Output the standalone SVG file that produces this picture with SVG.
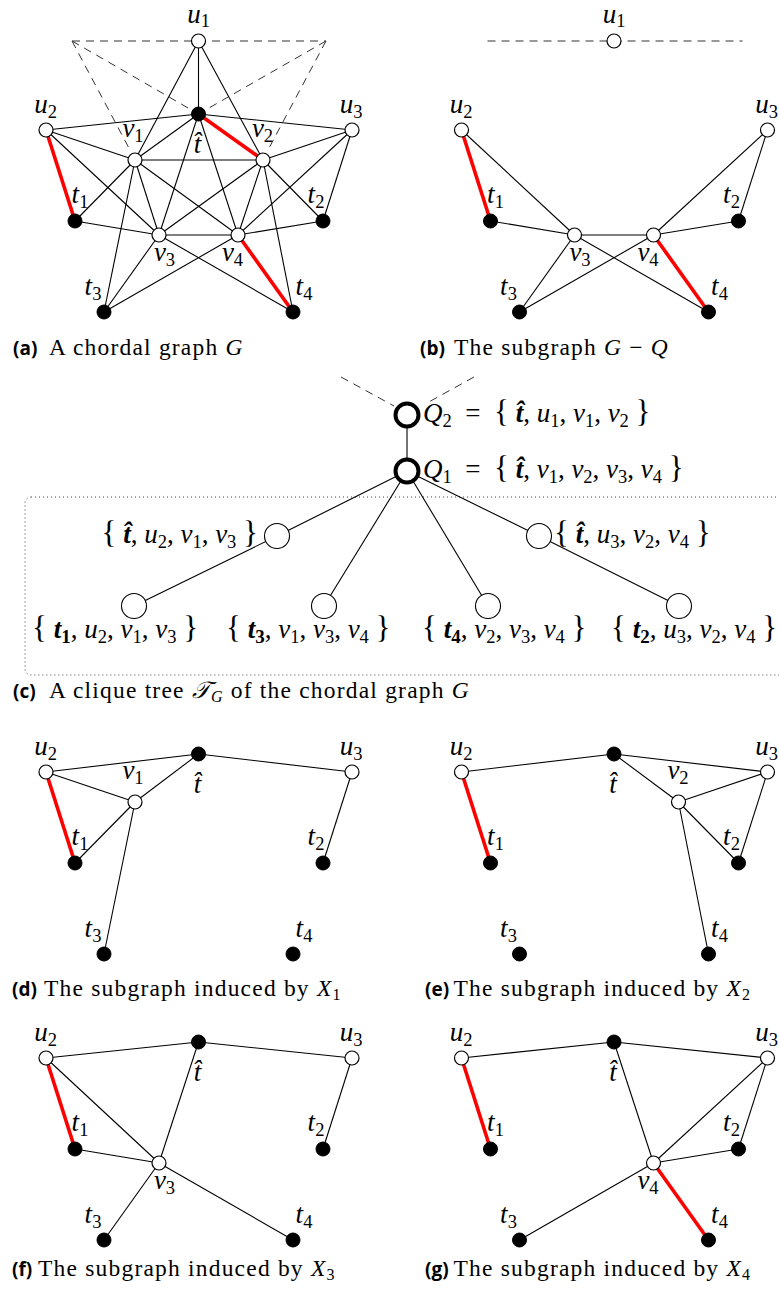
<svg xmlns="http://www.w3.org/2000/svg" width="779" height="1293" viewBox="0 0 779 1293">
<style>
.e{stroke:#000;stroke-width:1.1;fill:none}
.r{stroke:#f00;stroke-width:3.6;fill:none}
.d{stroke:#333;stroke-width:1;stroke-dasharray:8 6;fill:none}
.w{fill:#fff;stroke:#000;stroke-width:1.2}
.b{fill:#000;stroke:#000;stroke-width:1}
.q{fill:#fff;stroke:#000;stroke-width:4}
.c{fill:#fff;stroke:#000;stroke-width:1.1}
.lab{font-family:"Liberation Serif",serif;font-size:27px;font-style:italic;text-anchor:middle}
.set{font-family:"Liberation Serif",serif;font-size:27px;font-style:italic}
.sub{font-size:18.5px;font-style:normal}
.n{font-style:normal}
.br{font-style:normal;font-size:31px}
.bi{font-weight:bold;font-style:italic}
.bs{font-weight:bold;font-style:normal;font-size:19px}
.cap{font-family:"Liberation Serif",serif;font-size:23.5px;letter-spacing:1.2px}
.capb{font-family:"Open Sans",sans-serif;font-weight:bold;font-size:19px}
.box{fill:none;stroke:#444;stroke-width:1;stroke-dasharray:1 3}
</style>

<!-- ===== Panel (a) ===== -->
<g id="panel-a">
  <g id="a-connectors">
    <line class="d" x1="72" y1="41" x2="326" y2="41"/>
    <line class="d" x1="72" y1="41" x2="198.5" y2="114"/>
    <line class="d" x1="72" y1="41" x2="130" y2="150"/>
    <line class="d" x1="326" y1="41" x2="198.5" y2="114"/>
    <line class="d" x1="326" y1="41" x2="268" y2="150"/>
    <line class="e" x1="198.5" y1="41" x2="198.5" y2="114"/>
    <line class="e" x1="198.5" y1="41" x2="135" y2="160"/>
    <line class="e" x1="198.5" y1="41" x2="263" y2="160"/>
    <line class="e" x1="198.5" y1="114" x2="46" y2="130"/>
    <line class="e" x1="198.5" y1="114" x2="352" y2="130"/>
    <line class="e" x1="198.5" y1="114" x2="135" y2="160"/>
    <line class="e" x1="198.5" y1="114" x2="159" y2="235"/>
    <line class="e" x1="198.5" y1="114" x2="238" y2="235"/>
    <line class="e" x1="46" y1="130" x2="135" y2="160"/>
    <line class="e" x1="46" y1="130" x2="159" y2="235"/>
    <line class="e" x1="352" y1="130" x2="263" y2="160"/>
    <line class="e" x1="352" y1="130" x2="238" y2="235"/>
    <line class="e" x1="352" y1="130" x2="323" y2="221"/>
    <line class="e" x1="135" y1="160" x2="263" y2="160"/>
    <line class="e" x1="135" y1="160" x2="75" y2="221"/>
    <line class="e" x1="135" y1="160" x2="159" y2="235"/>
    <line class="e" x1="135" y1="160" x2="238" y2="235"/>
    <line class="e" x1="135" y1="160" x2="104" y2="312"/>
    <line class="e" x1="263" y1="160" x2="159" y2="235"/>
    <line class="e" x1="263" y1="160" x2="238" y2="235"/>
    <line class="e" x1="263" y1="160" x2="323" y2="221"/>
    <line class="e" x1="263" y1="160" x2="293" y2="312"/>
    <line class="e" x1="75" y1="221" x2="159" y2="235"/>
    <line class="e" x1="323" y1="221" x2="238" y2="235"/>
    <line class="e" x1="159" y1="235" x2="238" y2="235"/>
    <line class="e" x1="159" y1="235" x2="104" y2="312"/>
    <line class="e" x1="159" y1="235" x2="293" y2="312"/>
    <line class="e" x1="238" y1="235" x2="104" y2="312"/>
    <line class="r" x1="46" y1="130" x2="75" y2="221"/>
    <line class="r" x1="198.5" y1="114" x2="263" y2="160"/>
    <line class="r" x1="238" y1="235" x2="293" y2="312"/>
  </g>
  <g id="a-u1"><circle class="w" cx="198.5" cy="41" r="7"/><text class="lab" x="198.5" y="23" font-size="25">u<tspan class="sub" dy="4">1</tspan></text></g>
  <g id="a-th"><circle class="b" cx="198.5" cy="114" r="7"/><text class="lab" x="197.5" y="153">t&#x302;</text></g>
  <g id="a-u2"><circle class="w" cx="46" cy="130" r="7"/><text class="lab" x="45.5" y="113">u<tspan class="sub" dy="5">2</tspan></text></g>
  <g id="a-u3"><circle class="w" cx="352" cy="130" r="7"/><text class="lab" x="351" y="113">u<tspan class="sub" dy="5">3</tspan></text></g>
  <g id="a-v1"><circle class="w" cx="135" cy="160" r="7"/><text class="lab" x="133" y="137">v<tspan class="sub" dy="5">1</tspan></text></g>
  <g id="a-v2"><circle class="w" cx="263" cy="160" r="7"/><text class="lab" x="262.5" y="137">v<tspan class="sub" dy="5">2</tspan></text></g>
  <g id="a-t1"><circle class="b" cx="75" cy="221" r="7"/><text class="lab" x="80" y="203">t<tspan class="sub" dy="5">1</tspan></text></g>
  <g id="a-t2"><circle class="b" cx="323" cy="221" r="7"/><text class="lab" x="316" y="203">t<tspan class="sub" dy="5">2</tspan></text></g>
  <g id="a-v3"><circle class="w" cx="159" cy="235" r="7"/><text class="lab" x="164.5" y="261">v<tspan class="sub" dy="5">3</tspan></text></g>
  <g id="a-v4"><circle class="w" cx="238" cy="235" r="7"/><text class="lab" x="232.5" y="261">v<tspan class="sub" dy="5">4</tspan></text></g>
  <g id="a-t3"><circle class="b" cx="104" cy="312" r="7"/><text class="lab" x="93" y="295">t<tspan class="sub" dy="5">3</tspan></text></g>
  <g id="a-t4"><circle class="b" cx="293" cy="312" r="7"/><text class="lab" x="304" y="295">t<tspan class="sub" dy="5">4</tspan></text></g>
  <text class="capb" x="13" y="355">(a)</text>
  <text class="cap" x="49" y="355">A chordal graph <tspan font-style="italic">G</tspan></text>
</g>

<!-- ===== Panel (b) ===== -->
<g id="panel-b" transform="translate(415.5,0)">
  <g id="b-connectors">
    <line class="d" x1="72" y1="41" x2="327" y2="41"/>
    <line class="e" x1="46" y1="130" x2="159" y2="235"/>
    <line class="e" x1="75" y1="221" x2="159" y2="235"/>
    <line class="e" x1="159" y1="235" x2="238" y2="235"/>
    <line class="e" x1="159" y1="235" x2="104" y2="312"/>
    <line class="e" x1="159" y1="235" x2="293" y2="312"/>
    <line class="e" x1="238" y1="235" x2="104" y2="312"/>
    <line class="e" x1="238" y1="235" x2="352" y2="130"/>
    <line class="e" x1="238" y1="235" x2="323" y2="221"/>
    <line class="e" x1="352" y1="130" x2="323" y2="221"/>
    <line class="r" x1="46" y1="130" x2="75" y2="221"/>
    <line class="r" x1="238" y1="235" x2="293" y2="312"/>
  </g>
  <g id="b-u1"><circle class="w" cx="198.5" cy="41" r="7"/><text class="lab" x="198.5" y="23" font-size="25">u<tspan class="sub" dy="4">1</tspan></text></g>
  <g id="b-u2"><circle class="w" cx="46" cy="130" r="7"/><text class="lab" x="45.5" y="113">u<tspan class="sub" dy="5">2</tspan></text></g>
  <g id="b-u3"><circle class="w" cx="352" cy="130" r="7"/><text class="lab" x="351" y="113">u<tspan class="sub" dy="5">3</tspan></text></g>
  <g id="b-t1"><circle class="b" cx="75" cy="221" r="7"/><text class="lab" x="80" y="203">t<tspan class="sub" dy="5">1</tspan></text></g>
  <g id="b-t2"><circle class="b" cx="323" cy="221" r="7"/><text class="lab" x="316" y="203">t<tspan class="sub" dy="5">2</tspan></text></g>
  <g id="b-v3"><circle class="w" cx="159" cy="235" r="7"/><text class="lab" x="164.5" y="261">v<tspan class="sub" dy="5">3</tspan></text></g>
  <g id="b-v4"><circle class="w" cx="238" cy="235" r="7"/><text class="lab" x="232.5" y="261">v<tspan class="sub" dy="5">4</tspan></text></g>
  <g id="b-t3"><circle class="b" cx="104" cy="312" r="7"/><text class="lab" x="93" y="295">t<tspan class="sub" dy="5">3</tspan></text></g>
  <g id="b-t4"><circle class="b" cx="293" cy="312" r="7"/><text class="lab" x="304" y="295">t<tspan class="sub" dy="5">4</tspan></text></g>
  <text class="capb" x="4.5" y="355">(b)</text>
  <text class="cap" x="38.5" y="355">The subgraph <tspan font-style="italic">G</tspan> &#x2212; <tspan font-style="italic">Q</tspan></text>
</g>

<!-- ===== Panel (c) ===== -->
<g id="panel-c">
  <rect class="box" x="25" y="497" width="800" height="178" rx="6"/>
  <g id="c-connectors">
    <line class="d" x1="341" y1="377" x2="394" y2="406"/>
    <line class="d" x1="474" y1="377" x2="427" y2="403"/>
    <line class="e" x1="407" y1="415" x2="407" y2="471"/>
    <line class="e" x1="407" y1="471" x2="277" y2="536"/>
    <line class="e" x1="407" y1="471" x2="324" y2="606"/>
    <line class="e" x1="407" y1="471" x2="488" y2="606"/>
    <line class="e" x1="407" y1="471" x2="539" y2="536"/>
    <line class="e" x1="277" y1="536" x2="134" y2="606"/>
    <line class="e" x1="539" y1="536" x2="679" y2="606"/>
  </g>
  <g id="c-Q2"><circle class="q" cx="407" cy="415" r="11.5"/>
    <text class="set" x="423" y="422">Q<tspan class="sub" dy="5">2</tspan><tspan class="n" dy="-5">&#x2002;=&#x2002;</tspan><tspan class="br">{</tspan><tspan class="n">&#x2005;</tspan><tspan class="bi">t&#x302;</tspan><tspan class="n">,&#x2005;</tspan>u<tspan class="sub" dy="5">1</tspan><tspan class="n" dy="-5">,&#x2005;</tspan>v<tspan class="sub" dy="5">1</tspan><tspan class="n" dy="-5">,&#x2005;</tspan>v<tspan class="sub" dy="5">2</tspan><tspan class="n" dy="-5">&#x2005;</tspan><tspan class="br">}</tspan></text></g>
  <g id="c-Q1"><circle class="q" cx="407" cy="471" r="11.5"/>
    <text class="set" x="423" y="478">Q<tspan class="sub" dy="5">1</tspan><tspan class="n" dy="-5">&#x2002;=&#x2002;</tspan><tspan class="br">{</tspan><tspan class="n">&#x2005;</tspan><tspan class="bi">t&#x302;</tspan><tspan class="n">,&#x2005;</tspan>v<tspan class="sub" dy="5">1</tspan><tspan class="n" dy="-5">,&#x2005;</tspan>v<tspan class="sub" dy="5">2</tspan><tspan class="n" dy="-5">,&#x2005;</tspan>v<tspan class="sub" dy="5">3</tspan><tspan class="n" dy="-5">,&#x2005;</tspan>v<tspan class="sub" dy="5">4</tspan><tspan class="n" dy="-5">&#x2005;</tspan><tspan class="br">}</tspan></text></g>
  <g id="c-L"><circle class="c" cx="277" cy="536" r="12.5"/>
    <text class="set" x="258" y="543" text-anchor="end"><tspan class="br">{</tspan><tspan class="n">&#x2005;</tspan><tspan class="bi">t&#x302;</tspan><tspan class="n">,&#x2005;</tspan>u<tspan class="sub" dy="5">2</tspan><tspan class="n" dy="-5">,&#x2005;</tspan>v<tspan class="sub" dy="5">1</tspan><tspan class="n" dy="-5">,&#x2005;</tspan>v<tspan class="sub" dy="5">3</tspan><tspan class="n" dy="-5">&#x2005;</tspan><tspan class="br">}</tspan></text></g>
  <g id="c-R"><circle class="c" cx="539" cy="536" r="12.5"/>
    <text class="set" x="554" y="543"><tspan class="br">{</tspan><tspan class="n">&#x2005;</tspan><tspan class="bi">t&#x302;</tspan><tspan class="n">,&#x2005;</tspan>u<tspan class="sub" dy="5">3</tspan><tspan class="n" dy="-5">,&#x2005;</tspan>v<tspan class="sub" dy="5">2</tspan><tspan class="n" dy="-5">,&#x2005;</tspan>v<tspan class="sub" dy="5">4</tspan><tspan class="n" dy="-5">&#x2005;</tspan><tspan class="br">}</tspan></text></g>
  <g id="c-T1"><circle class="c" cx="134" cy="606" r="12.5"/>
    <text class="set" x="32" y="638"><tspan class="br">{</tspan><tspan class="n">&#x2005;</tspan><tspan class="bi">t</tspan><tspan class="bs" dy="5">1</tspan><tspan class="n" dy="-5">,&#x2005;</tspan>u<tspan class="sub" dy="5">2</tspan><tspan class="n" dy="-5">,&#x2005;</tspan>v<tspan class="sub" dy="5">1</tspan><tspan class="n" dy="-5">,&#x2005;</tspan>v<tspan class="sub" dy="5">3</tspan><tspan class="n" dy="-5">&#x2005;</tspan><tspan class="br">}</tspan></text></g>
  <g id="c-T3"><circle class="c" cx="324" cy="606" r="12.5"/>
    <text class="set" x="226" y="638"><tspan class="br">{</tspan><tspan class="n">&#x2005;</tspan><tspan class="bi">t</tspan><tspan class="bs" dy="5">3</tspan><tspan class="n" dy="-5">,&#x2005;</tspan>v<tspan class="sub" dy="5">1</tspan><tspan class="n" dy="-5">,&#x2005;</tspan>v<tspan class="sub" dy="5">3</tspan><tspan class="n" dy="-5">,&#x2005;</tspan>v<tspan class="sub" dy="5">4</tspan><tspan class="n" dy="-5">&#x2005;</tspan><tspan class="br">}</tspan></text></g>
  <g id="c-T4"><circle class="c" cx="488" cy="606" r="12.5"/>
    <text class="set" x="422" y="638"><tspan class="br">{</tspan><tspan class="n">&#x2005;</tspan><tspan class="bi">t</tspan><tspan class="bs" dy="5">4</tspan><tspan class="n" dy="-5">,&#x2005;</tspan>v<tspan class="sub" dy="5">2</tspan><tspan class="n" dy="-5">,&#x2005;</tspan>v<tspan class="sub" dy="5">3</tspan><tspan class="n" dy="-5">,&#x2005;</tspan>v<tspan class="sub" dy="5">4</tspan><tspan class="n" dy="-5">&#x2005;</tspan><tspan class="br">}</tspan></text></g>
  <g id="c-T2"><circle class="c" cx="679" cy="606" r="12.5"/>
    <text class="set" x="611" y="638"><tspan class="br">{</tspan><tspan class="n">&#x2005;</tspan><tspan class="bi">t</tspan><tspan class="bs" dy="5">2</tspan><tspan class="n" dy="-5">,&#x2005;</tspan>u<tspan class="sub" dy="5">3</tspan><tspan class="n" dy="-5">,&#x2005;</tspan>v<tspan class="sub" dy="5">2</tspan><tspan class="n" dy="-5">,&#x2005;</tspan>v<tspan class="sub" dy="5">4</tspan><tspan class="n" dy="-5">&#x2005;</tspan><tspan class="br">}</tspan></text></g>
  <text class="capb" x="13" y="698">(c)</text>
  <text class="cap" x="49" y="698">A clique tree <tspan font-style="italic">&#x1D4AF;</tspan><tspan font-style="italic" font-size="16" dy="4">G</tspan><tspan dy="-4"> of the chordal graph </tspan><tspan font-style="italic">G</tspan></text>
</g>

<!-- ===== Panel (d) ===== -->
<g id="panel-d" transform="translate(0,642)">
  <g id="d-connectors">
    <line class="e" x1="46" y1="130" x2="198.5" y2="112"/>
    <line class="e" x1="198.5" y1="112" x2="352" y2="130"/>
    <line class="e" x1="46" y1="130" x2="135" y2="160"/>
    <line class="e" x1="135" y1="160" x2="198.5" y2="112"/>
    <line class="e" x1="135" y1="160" x2="75" y2="221"/>
    <line class="e" x1="135" y1="160" x2="104" y2="312"/>
    <line class="e" x1="352" y1="130" x2="323" y2="221"/>
    <line class="r" x1="46" y1="130" x2="75" y2="221"/>
  </g>
  <g id="d-th"><circle class="b" cx="198.5" cy="112" r="7"/><text class="lab" x="197.5" y="151">t&#x302;</text></g>
  <g id="d-u2"><circle class="w" cx="46" cy="130" r="7"/><text class="lab" x="45.5" y="113">u<tspan class="sub" dy="5">2</tspan></text></g>
  <g id="d-u3"><circle class="w" cx="352" cy="130" r="7"/><text class="lab" x="351" y="113">u<tspan class="sub" dy="5">3</tspan></text></g>
  <g id="d-v1"><circle class="w" cx="135" cy="160" r="7"/><text class="lab" x="133" y="137">v<tspan class="sub" dy="5">1</tspan></text></g>
  <g id="d-t1"><circle class="b" cx="75" cy="221" r="7"/><text class="lab" x="80" y="203">t<tspan class="sub" dy="5">1</tspan></text></g>
  <g id="d-t2"><circle class="b" cx="323" cy="221" r="7"/><text class="lab" x="316" y="203">t<tspan class="sub" dy="5">2</tspan></text></g>
  <g id="d-t3"><circle class="b" cx="104" cy="312" r="7"/><text class="lab" x="93" y="295">t<tspan class="sub" dy="5">3</tspan></text></g>
  <g id="d-t4"><circle class="b" cx="293" cy="312" r="7"/><text class="lab" x="304" y="295">t<tspan class="sub" dy="5">4</tspan></text></g>
  <text class="capb" x="12" y="354">(d)</text>
  <text class="cap" x="44" y="354">The subgraph induced by <tspan font-style="italic">X</tspan><tspan font-size="16" dy="4">1</tspan></text>
</g>

<!-- ===== Panel (e) ===== -->
<g id="panel-e" transform="translate(415.5,642)">
  <g id="e-connectors">
    <line class="e" x1="46" y1="130" x2="198.5" y2="112"/>
    <line class="e" x1="198.5" y1="112" x2="352" y2="130"/>
    <line class="e" x1="198.5" y1="112" x2="263" y2="160"/>
    <line class="e" x1="263" y1="160" x2="352" y2="130"/>
    <line class="e" x1="263" y1="160" x2="323" y2="221"/>
    <line class="e" x1="263" y1="160" x2="293" y2="312"/>
    <line class="e" x1="352" y1="130" x2="323" y2="221"/>
    <line class="r" x1="46" y1="130" x2="75" y2="221"/>
  </g>
  <g id="e-th"><circle class="b" cx="198.5" cy="112" r="7"/><text class="lab" x="197.5" y="151">t&#x302;</text></g>
  <g id="e-u2"><circle class="w" cx="46" cy="130" r="7"/><text class="lab" x="45.5" y="113">u<tspan class="sub" dy="5">2</tspan></text></g>
  <g id="e-u3"><circle class="w" cx="352" cy="130" r="7"/><text class="lab" x="351" y="113">u<tspan class="sub" dy="5">3</tspan></text></g>
  <g id="e-v2"><circle class="w" cx="263" cy="160" r="7"/><text class="lab" x="262.5" y="137">v<tspan class="sub" dy="5">2</tspan></text></g>
  <g id="e-t1"><circle class="b" cx="75" cy="221" r="7"/><text class="lab" x="80" y="203">t<tspan class="sub" dy="5">1</tspan></text></g>
  <g id="e-t2"><circle class="b" cx="323" cy="221" r="7"/><text class="lab" x="316" y="203">t<tspan class="sub" dy="5">2</tspan></text></g>
  <g id="e-t3"><circle class="b" cx="104" cy="312" r="7"/><text class="lab" x="93" y="295">t<tspan class="sub" dy="5">3</tspan></text></g>
  <g id="e-t4"><circle class="b" cx="293" cy="312" r="7"/><text class="lab" x="304" y="295">t<tspan class="sub" dy="5">4</tspan></text></g>
  <text class="capb" x="9.5" y="354">(e)</text>
  <text class="cap" x="38" y="354">The subgraph induced by <tspan font-style="italic">X</tspan><tspan font-size="16" dy="4">2</tspan></text>
</g>

<!-- ===== Panel (f) ===== -->
<g id="panel-f" transform="translate(0,928)">
  <g id="f-connectors">
    <line class="e" x1="46" y1="130" x2="198.5" y2="114"/>
    <line class="e" x1="198.5" y1="114" x2="352" y2="130"/>
    <line class="e" x1="46" y1="130" x2="159" y2="235"/>
    <line class="e" x1="75" y1="221" x2="159" y2="235"/>
    <line class="e" x1="198.5" y1="114" x2="159" y2="235"/>
    <line class="e" x1="159" y1="235" x2="104" y2="312"/>
    <line class="e" x1="159" y1="235" x2="293" y2="312"/>
    <line class="e" x1="352" y1="130" x2="323" y2="221"/>
    <line class="r" x1="46" y1="130" x2="75" y2="221"/>
  </g>
  <g id="f-th"><circle class="b" cx="198.5" cy="114" r="7"/><text class="lab" x="197.5" y="153">t&#x302;</text></g>
  <g id="f-u2"><circle class="w" cx="46" cy="130" r="7"/><text class="lab" x="45.5" y="113">u<tspan class="sub" dy="5">2</tspan></text></g>
  <g id="f-u3"><circle class="w" cx="352" cy="130" r="7"/><text class="lab" x="351" y="113">u<tspan class="sub" dy="5">3</tspan></text></g>
  <g id="f-t1"><circle class="b" cx="75" cy="221" r="7"/><text class="lab" x="80" y="203">t<tspan class="sub" dy="5">1</tspan></text></g>
  <g id="f-t2"><circle class="b" cx="323" cy="221" r="7"/><text class="lab" x="316" y="203">t<tspan class="sub" dy="5">2</tspan></text></g>
  <g id="f-v3"><circle class="w" cx="159" cy="235" r="7"/><text class="lab" x="164.5" y="261">v<tspan class="sub" dy="5">3</tspan></text></g>
  <g id="f-t3"><circle class="b" cx="104" cy="312" r="7"/><text class="lab" x="93" y="295">t<tspan class="sub" dy="5">3</tspan></text></g>
  <g id="f-t4"><circle class="b" cx="293" cy="312" r="7"/><text class="lab" x="304" y="295">t<tspan class="sub" dy="5">4</tspan></text></g>
  <text class="capb" x="12" y="348">(f)</text>
  <text class="cap" x="38" y="348">The subgraph induced by <tspan font-style="italic">X</tspan><tspan font-size="16" dy="4">3</tspan></text>
</g>

<!-- ===== Panel (g) ===== -->
<g id="panel-g" transform="translate(415.5,928)">
  <g id="g-connectors">
    <line class="e" x1="46" y1="130" x2="198.5" y2="114"/>
    <line class="e" x1="198.5" y1="114" x2="352" y2="130"/>
    <line class="e" x1="198.5" y1="114" x2="238" y2="235"/>
    <line class="e" x1="352" y1="130" x2="238" y2="235"/>
    <line class="e" x1="352" y1="130" x2="323" y2="221"/>
    <line class="e" x1="323" y1="221" x2="238" y2="235"/>
    <line class="e" x1="238" y1="235" x2="104" y2="312"/>
    <line class="r" x1="46" y1="130" x2="75" y2="221"/>
    <line class="r" x1="238" y1="235" x2="293" y2="312"/>
  </g>
  <g id="g-th"><circle class="b" cx="198.5" cy="114" r="7"/><text class="lab" x="197.5" y="153">t&#x302;</text></g>
  <g id="g-u2"><circle class="w" cx="46" cy="130" r="7"/><text class="lab" x="45.5" y="113">u<tspan class="sub" dy="5">2</tspan></text></g>
  <g id="g-u3"><circle class="w" cx="352" cy="130" r="7"/><text class="lab" x="351" y="113">u<tspan class="sub" dy="5">3</tspan></text></g>
  <g id="g-t1"><circle class="b" cx="75" cy="221" r="7"/><text class="lab" x="80" y="203">t<tspan class="sub" dy="5">1</tspan></text></g>
  <g id="g-t2"><circle class="b" cx="323" cy="221" r="7"/><text class="lab" x="316" y="203">t<tspan class="sub" dy="5">2</tspan></text></g>
  <g id="g-v4"><circle class="w" cx="238" cy="235" r="7"/><text class="lab" x="232.5" y="261">v<tspan class="sub" dy="5">4</tspan></text></g>
  <g id="g-t3"><circle class="b" cx="104" cy="312" r="7"/><text class="lab" x="93" y="295">t<tspan class="sub" dy="5">3</tspan></text></g>
  <g id="g-t4"><circle class="b" cx="293" cy="312" r="7"/><text class="lab" x="304" y="295">t<tspan class="sub" dy="5">4</tspan></text></g>
  <text class="capb" x="9.5" y="348">(g)</text>
  <text class="cap" x="38" y="348">The subgraph induced by <tspan font-style="italic">X</tspan><tspan font-size="16" dy="4">4</tspan></text>
</g>
</svg>
